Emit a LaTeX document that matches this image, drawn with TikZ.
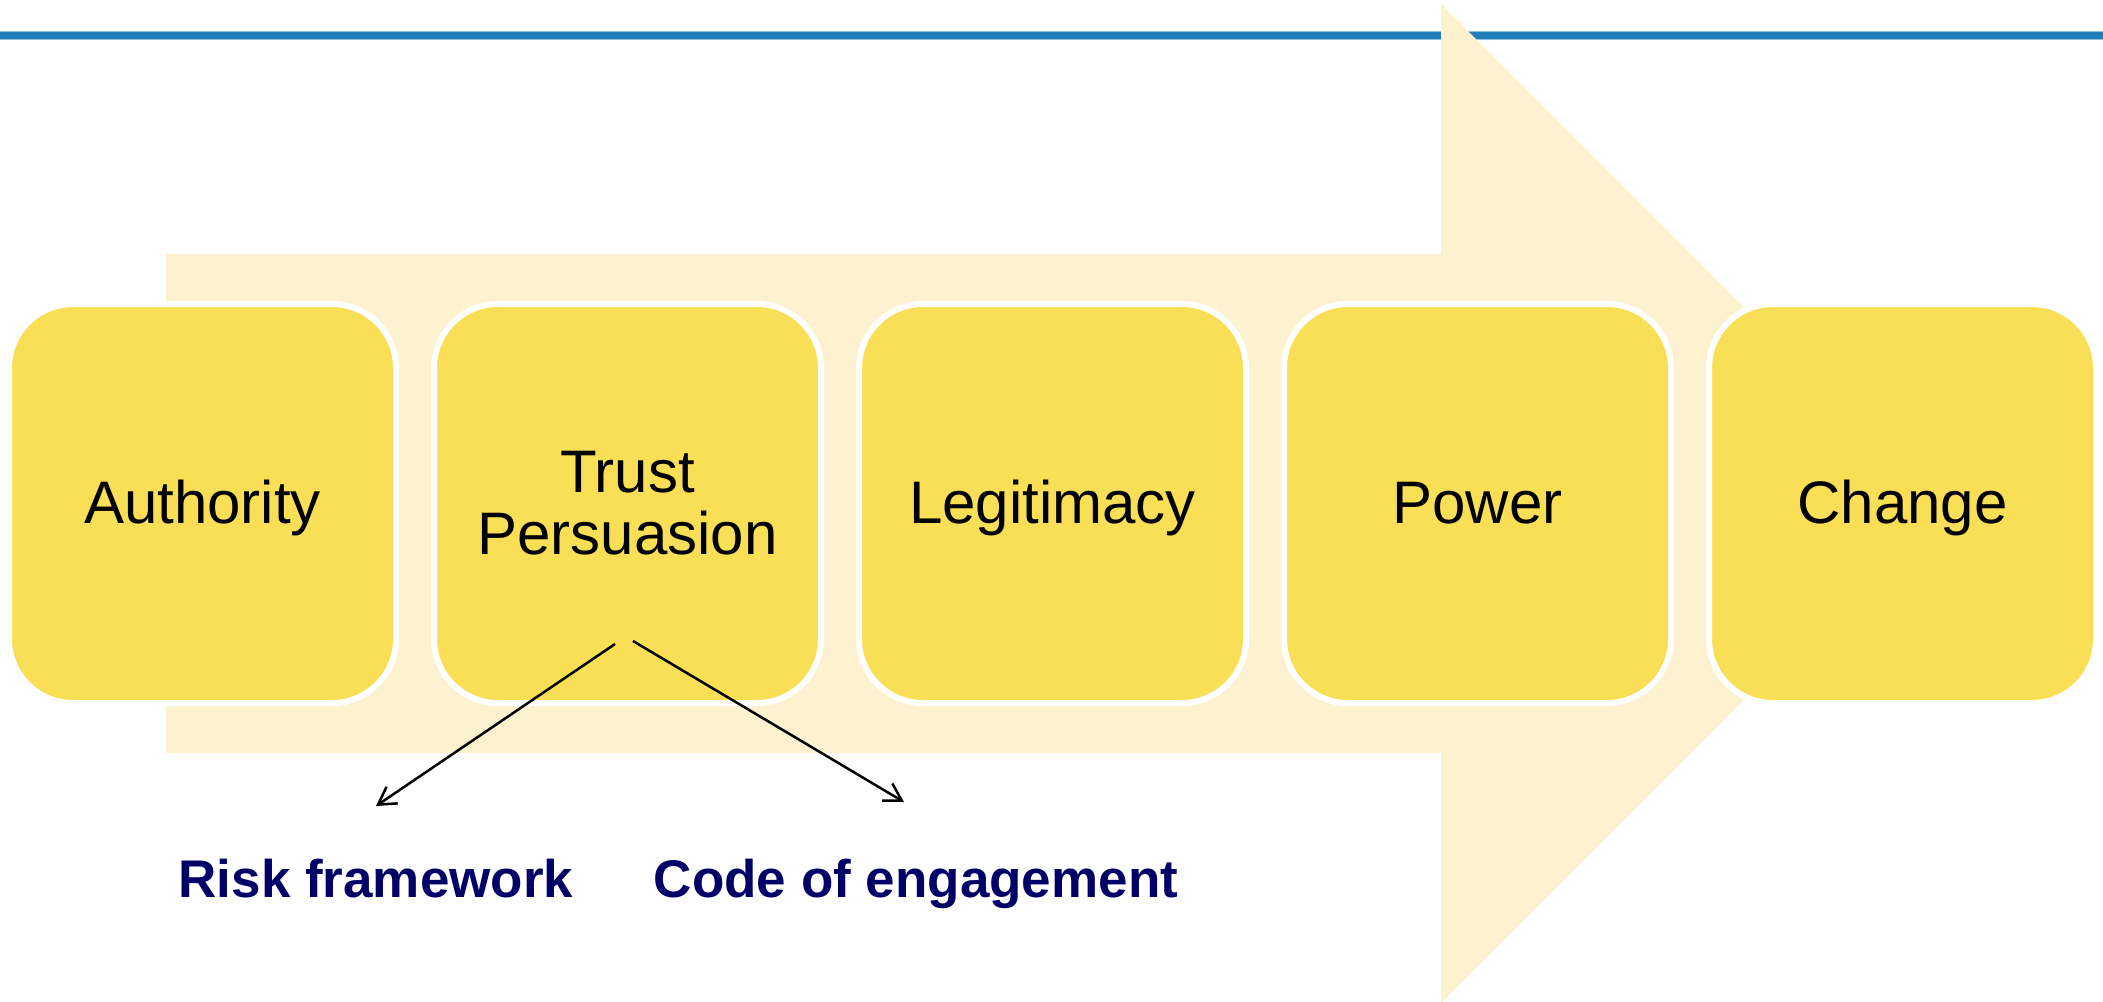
\documentclass[tikz,border=0pt]{standalone}
\usepackage{fontspec}
\setmainfont{Liberation Sans}
\usetikzlibrary{arrows.meta}
\definecolor{lineblue}{HTML}{1F7EB8}
\definecolor{lineedge}{HTML}{8EC0E0}
\definecolor{cream}{HTML}{FCF2D0}
\definecolor{boxyellow}{HTML}{F9DF55}
\definecolor{navy}{HTML}{000066}
\tikzset{
  stepbox/.style={rounded corners=64pt, draw=white, line width=6pt, fill=boxyellow,
    minimum width=387pt, minimum height=399pt, inner sep=0pt, outer sep=0pt,
    align=center, font=\fontsize{60}{62}\selectfont, text=black},
  onel/.style={text height=43pt, text depth=4pt},
  outcome/.style={font=\fontsize{53}{60}\selectfont\bfseries, text=navy, inner sep=0pt, anchor=base},
  link/.style={line width=2.5pt, -{Straight Barb[length=17pt,width=20pt,line width=2.5pt]}}
}
\begin{document}
\begin{tikzpicture}[x=1pt,y=-1pt]
\useasboundingbox (0,0) rectangle (2103,1001);
% top rule
\draw[line width=9pt, lineedge] (0,35.5) -- (2103,35.5);
\draw[line width=7pt, lineblue] (0,35.5) -- (2103,35.5);
% big background arrow
\fill[cream] (166,254) -- (1441,254) -- (1441,4) -- (1940,503.5) -- (1441,1003) -- (1441,753) -- (166,753) -- cycle;
% steps
\node[stepbox, onel] (auth)  at (202.5,503.5)  {Authority};
\node[stepbox]       (trust) at (627.5,503.5)  {Trust\\Persuasion};
\node[stepbox, onel] (legit) at (1052.5,503.5) {Legitimacy};
\node[stepbox, onel] (power) at (1477.5,503.5) {Power};
\node[stepbox, onel] (change) at (1902.5,503.5) {Change};
% outcomes
\node[outcome] (risk) at (376,897) {Risk framework};
\node[outcome] (code) at (916,897) {Code of engagement};
% connectors
\coordinate (s1) at (615,644);
\coordinate (s2) at (633,641);
\coordinate (e1) at (376,806);
\coordinate (e2) at (904,802);
\draw[link] (s1) -- (e1);
\draw[link] (s2) -- (e2);
\end{tikzpicture}
\end{document}
